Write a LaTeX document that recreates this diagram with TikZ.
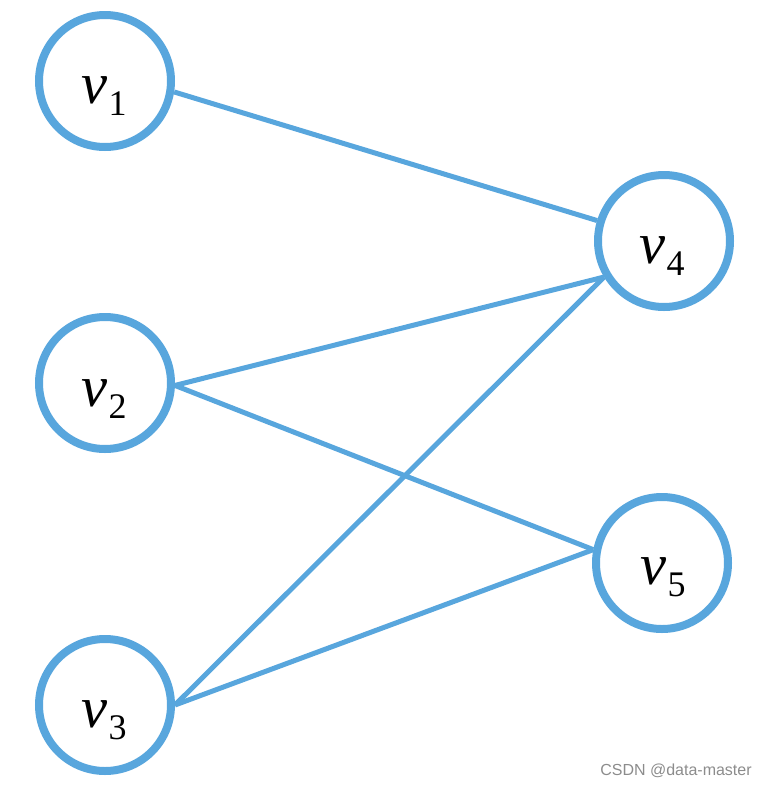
\documentclass[tikz,border=0pt]{standalone}
\usepackage{fontspec}
\setmainfont{Liberation Serif}
\newfontfamily\wmfont{Liberation Sans}
\definecolor{edgeblue}{RGB}{88,166,221}
\newcommand{\vlab}[1]{{\fontsize{44}{44}\selectfont\itshape v}\kern1pt\raisebox{-9pt}{\fontsize{27}{27}\selectfont #1}}
\begin{document}
\begin{tikzpicture}[x=0.75pt,y=-0.75pt,
  vertex/.style={circle,draw=edgeblue,line width=6pt,minimum size=99pt,inner sep=0pt,fill=white},
  edge/.style={draw=edgeblue,line width=3.75pt},
  lbl/.style={inner sep=0pt,anchor=base}]
\useasboundingbox (0,0) rectangle (768,786);
\node[vertex] (v1) at (105,81) {};
\node[vertex] (v2) at (105,383) {};
\node[vertex] (v3) at (105,705) {};
\node[vertex] (v4) at (664,241) {};
\node[vertex] (v5) at (662,563) {};
\draw[edge] (v1.-9) -- (v4.163);
\draw[edge] (v2.-2) -- (v4.211);
\draw[edge] (v2.-2) -- (v5.169);
\draw[edge] (v3.0) -- (v4.211);
\draw[edge] (v3.0) -- (v5.169);
\node[lbl] (l1) at (104,103) {\vlab{1}};
\node[lbl] (l2) at (104,406) {\vlab{2}};
\node[lbl] (l3) at (104,727) {\vlab{3}};
\node[lbl] (l4) at (662,263) {\vlab{4}};
\node[lbl] (l5) at (663,584) {\vlab{5}};
\node[font=\wmfont\fontsize{12}{14}\selectfont, text=black!45, inner sep=0pt] (wm) at (676,771) {CSDN @data-master};
\end{tikzpicture}
\end{document}
